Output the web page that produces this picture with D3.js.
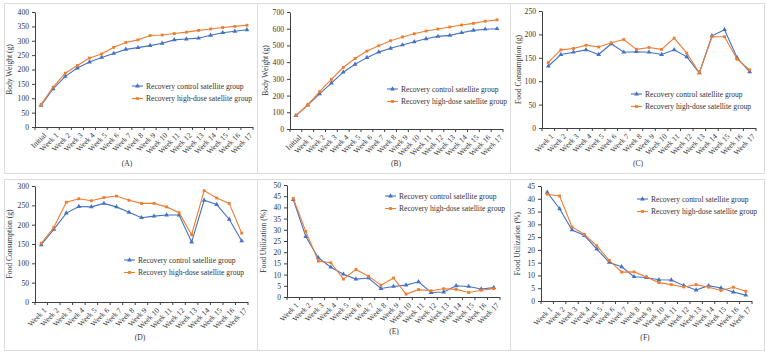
<!DOCTYPE html>
<html>
<head>
<meta charset="utf-8">
<script src="https://cdn.jsdelivr.net/npm/d3@7"></script>
<style>
  body { margin: 0; background: #fff; }
  svg { display: block; font-family: "Liberation Serif", "Times New Roman", serif; }
  .axis path, .axis line { stroke: #404040; }
  .axis text { fill: #333; font-size: 7.6px; font-family: "Liberation Serif", serif; }
</style>
</head>
<body>
<div id="chart"></div>
<script>
// categories
var weeksInit = ["Initial", "Week 1", "Week 2", "Week 3", "Week 4", "Week 5", "Week 6", "Week 7", "Week 8",
  "Week 9", "Week 10", "Week 11", "Week 12", "Week 13", "Week 14", "Week 15", "Week 16", "Week 17"];
var weeks = weeksInit.slice(1);

var seriesNames = ["Recovery control satellite group", "Recovery high-dose satellite group"];

// (A) body weight
var weightCtrlA = [75, 133, 176, 205, 226, 242, 256, 270, 276, 283, 291, 303, 306, 309, 319, 328, 333, 338];
var weightHighA = [78, 139, 187, 214, 240, 254, 277, 294, 303, 318, 320, 325, 330, 336, 341, 346, 350, 354];
// (B) body weight
var weightCtrlB = [80, 143, 210, 275, 340, 387, 427, 460, 483, 503, 522, 540, 554, 560, 576, 590, 597, 600];
var weightHighB = [80, 145, 224, 297, 368, 422, 466, 498, 528, 551, 570, 586, 598, 610, 622, 632, 645, 653];
// (C) food consumption
var foodCtrlC = [132, 157, 162, 167, 157, 180, 162, 163, 162, 157, 167, 152, 118, 197, 210, 150, 120];
var foodHighC = [140, 167, 170, 177, 173, 182, 189, 168, 172, 168, 192, 160, 118, 195, 195, 147, 124];
// (D) food consumption
var foodCtrlD = [148, 188, 230, 247, 246, 255, 246, 232, 218, 222, 225, 225, 155, 263, 252, 214, 158];
var foodHighD = [152, 193, 258, 267, 262, 270, 274, 263, 255, 255, 246, 231, 174, 288, 269, 255, 178];
// (E) food utilization
var utilCtrlE = [43.5, 27, 17.5, 13.3, 10.2, 8.0, 8.5, 3.8, 4.7, 5.3, 6.8, 2.0, 2.2, 5.0, 4.7, 3.6, 4.2];
var utilHighE = [44.0, 29.3, 16.0, 15.3, 8.0, 12.3, 9.3, 5.3, 8.5, 1.3, 3.3, 2.8, 3.7, 3.4, 2.0, 3.0, 3.7];
// (F) food utilization
var utilCtrlF = [42.5, 36.1, 27.8, 25.6, 20.3, 15.1, 13.4, 9.5, 9.2, 8.3, 8.2, 6.1, 4.3, 6.0, 5.1, 3.5, 2.3];
var utilHighF = [41.8, 41.1, 29.0, 26.0, 21.6, 15.9, 11.3, 11.4, 9.4, 7.2, 6.4, 5.5, 6.4, 5.4, 4.1, 5.4, 3.8];

var colorCtrl = "#4472C4", colorHigh = "#ED7D31";
var fontSize = 7.6;

var width = 767, height = 354;
var svg = d3.select("#chart").append("svg")
  .attr("width", width).attr("height", height);

// panel frames
var frames = [
  [4, 3, 253, 170], [257, 3, 253, 170], [510, 3, 254, 170],
  [4, 179, 253, 171], [257, 179, 253, 171], [510, 179, 254, 171]
];
frames.forEach(function(f) {
  svg.append("rect").attr("x", f[0] + 0.5).attr("y", f[1] + 0.5)
    .attr("width", f[2]).attr("height", f[3])
    .attr("fill", "none").attr("stroke", "#dcdcdc").attr("stroke-width", 1);
});

var panels = [
  {cats: weeksInit, ctrl: weightCtrlA, high: weightHighA, yMax: 400, step: 50, title: "Body Weight (g)", tag: "(A)",
   x0: 35, x1: 253, yTop: 12, yBot: 127, titleX: 9, tagX: 127, tagY: 166, legX: 132, legY: 86},
  {cats: weeksInit, ctrl: weightCtrlB, high: weightHighB, yMax: 700, step: 100, title: "Body Weight (g)", tag: "(B)",
   x0: 290, x1: 503, yTop: 12, yBot: 129, titleX: 265, tagX: 396, tagY: 166, legX: 387, legY: 89},
  {cats: weeks, ctrl: foodCtrlC, high: foodHighC, yMax: 250, step: 50, title: "Food Consumption (g)", tag: "(C)",
   x0: 542, x1: 756, yTop: 11, yBot: 128, titleX: 518, tagX: 638, tagY: 166, legX: 631, legY: 94},
  {cats: weeks, ctrl: foodCtrlD, high: foodHighD, yMax: 300, step: 50, title: "Food Consumption (g)", tag: "(D)",
   x0: 35, x1: 248, yTop: 186, yBot: 302, titleX: 9, tagX: 140, tagY: 340, legX: 124, legY: 260},
  {cats: weeks, ctrl: utilCtrlE, high: utilHighE, yMax: 50, step: 5, title: "Food Utilization (%)", tag: "(E)",
   x0: 287, x1: 500, yTop: 185, yBot: 297, titleX: 263, tagX: 394, tagY: 334, legX: 385, legY: 196},
  {cats: weeks, ctrl: utilCtrlF, high: utilHighF, yMax: 45, step: 5, title: "Food Utilization (%)", tag: "(F)",
   x0: 541, x1: 752, yTop: 186, yBot: 301, titleX: 517, tagX: 645, tagY: 340, legX: 637, legY: 199}
];

var triangle = d3.symbol().type(d3.symbolTriangle).size(10);
var square = d3.symbol().type(d3.symbolSquare).size(8);

function drawPanel(p) {
  var g = svg.append("g");
  var x = d3.scaleBand().domain(p.cats).range([p.x0, p.x1]);
  var y = d3.scaleLinear().domain([0, p.yMax]).range([p.yBot, p.yTop]);
  var cx = function(c) { return x(c) + x.bandwidth() / 2; };

  // y axis
  g.append("g").attr("class", "axis")
    .attr("transform", "translate(" + p.x0 + ",0)")
    .call(d3.axisLeft(y).tickValues(d3.range(0, p.yMax + 0.001, p.step)).tickSize(3).tickSizeOuter(0).tickPadding(3));

  // x axis: ticks between categories
  var xa = g.append("g").attr("class", "axis")
    .attr("transform", "translate(0," + p.yBot + ")");
  xa.append("line").attr("x1", p.x0).attr("x2", p.x1).attr("y1", 0.5).attr("y2", 0.5);
  xa.selectAll("line.tk").data(p.cats.concat(["_end"])).join("line").attr("class", "tk")
    .attr("x1", function(c, i) { return p.x0 + i * x.step(); })
    .attr("x2", function(c, i) { return p.x0 + i * x.step(); })
    .attr("y1", 0).attr("y2", 3);
  xa.selectAll("text").data(p.cats).join("text")
    .attr("text-anchor", "end")
    .attr("transform", function(c) { return "translate(" + (cx(c) + 2) + ",5) rotate(-45)"; })
    .attr("dy", "0.7em")
    .text(function(c) { return c; });

  // y title
  g.append("text")
    .attr("transform", "translate(" + p.titleX + "," + ((p.yTop + p.yBot) / 2) + ") rotate(-90)")
    .attr("text-anchor", "middle").attr("dy", "0.35em")
    .attr("font-size", fontSize).attr("fill", "#333").text(p.title);

  // panel tag
  g.append("text").attr("x", p.tagX).attr("y", p.tagY).attr("text-anchor", "middle")
    .attr("font-size", fontSize).attr("fill", "#333").text(p.tag);

  var line = d3.line().x(function(d, i) { return cx(p.cats[i]); }).y(function(d) { return y(d); });

  [[p.ctrl, colorCtrl, triangle], [p.high, colorHigh, square]].forEach(function(s) {
    g.append("path").datum(s[0]).attr("d", line)
      .attr("fill", "none").attr("stroke", s[1]).attr("stroke-width", 1.1);
    g.selectAll(null).data(s[0]).join("path")
      .attr("d", s[2])
      .attr("transform", function(d, i) { return "translate(" + cx(p.cats[i]) + "," + y(d) + ")"; })
      .attr("fill", s[1]);
  });

  // legend
  [[colorCtrl, triangle], [colorHigh, square]].forEach(function(s, i) {
    var ly = p.legY + i * 12.5;
    g.append("line").attr("x1", p.legX).attr("x2", p.legX + 11).attr("y1", ly).attr("y2", ly)
      .attr("stroke", s[0]).attr("stroke-width", 1.1);
    g.append("path").attr("d", s[1]).attr("transform", "translate(" + (p.legX + 5.5) + "," + ly + ")").attr("fill", s[0]);
    g.append("text").attr("x", p.legX + 14).attr("y", ly).attr("dy", "0.35em")
      .attr("font-size", fontSize).attr("fill", "#333").text(seriesNames[i]);
  });
}

panels.forEach(drawPanel);
</script>
</body>
</html>
